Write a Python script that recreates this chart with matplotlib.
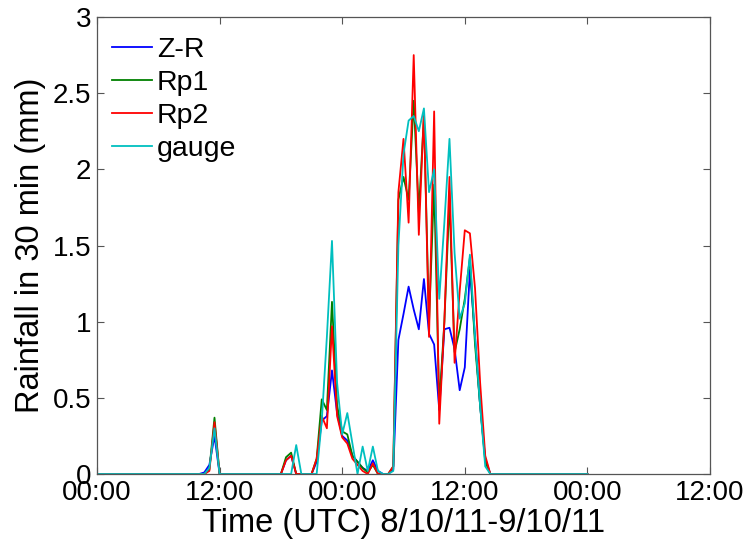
import matplotlib
matplotlib.use("Agg")
import matplotlib.pyplot as plt
import numpy as np

plt.rcParams['font.family'] = ['Liberation Sans', 'DejaVu Sans']

# half-hourly totals, 00:00 8/10/11 to 00:00 10/10/11 (hours since start)
hours = np.arange(0, 48.5, 0.5)

zr = [0, 0, 0, 0, 0, 0, 0, 0, 0, 0, 0, 0,
      0, 0, 0, 0, 0, 0, 0, 0, 0, 0.01, 0.06, 0.25,
      0, 0, 0, 0, 0, 0, 0, 0, 0, 0, 0, 0,
      0, 0.09, 0.12, 0, 0, 0, 0, 0.08, 0.35, 0.38, 0.68, 0.40,
      0.25, 0.22, 0.12, 0.08, 0.04, 0.02, 0.09, 0.02, 0, 0, 0.03, 0.88,
      1.05, 1.23, 1.08, 0.95, 1.28, 0.92, 0.85, 0.42, 0.95, 0.96, 0.82, 0.55,
      0.70, 1.34, 0.90, 0.45, 0.10, 0, 0, 0, 0, 0, 0, 0,
      0, 0, 0, 0, 0, 0, 0, 0, 0, 0, 0, 0,
      0]
rp1 = [0, 0, 0, 0, 0, 0, 0, 0, 0, 0, 0, 0,
       0, 0, 0, 0, 0, 0, 0, 0, 0, 0, 0.03, 0.37,
       0, 0, 0, 0, 0, 0, 0, 0, 0, 0, 0, 0,
       0, 0.11, 0.14, 0, 0, 0, 0, 0.10, 0.49, 0.42, 1.13, 0.45,
       0.28, 0.26, 0.12, 0.08, 0.04, 0.01, 0.06, 0, 0, 0, 0.05, 1.80,
       1.95, 1.80, 2.45, 1.72, 2.35, 1.00, 1.90, 0.45, 1.00, 1.80, 0.80, 0.95,
       1.15, 1.42, 0.85, 0.45, 0.08, 0, 0, 0, 0, 0, 0, 0,
       0, 0, 0, 0, 0, 0, 0, 0, 0, 0, 0, 0,
       0]
rp2 = [0, 0, 0, 0, 0, 0, 0, 0, 0, 0, 0, 0,
       0, 0, 0, 0, 0, 0, 0, 0, 0, 0, 0.02, 0.34,
       0, 0, 0, 0, 0, 0, 0, 0, 0, 0, 0, 0,
       0, 0.09, 0.12, 0, 0, 0, 0, 0.10, 0.38, 0.30, 0.97, 0.38,
       0.24, 0.20, 0.10, 0.06, 0.02, 0, 0.07, 0, 0, 0, 0.05, 1.85,
       2.20, 1.65, 2.75, 1.57, 2.38, 0.90, 2.38, 0.33, 1.00, 1.95, 0.73, 1.20,
       1.60, 1.58, 1.22, 0.60, 0.12, 0, 0, 0, 0, 0, 0, 0,
       0, 0, 0, 0, 0, 0, 0, 0, 0, 0, 0, 0,
       0]
gauge = [0, 0, 0, 0, 0, 0, 0, 0, 0, 0, 0, 0,
         0, 0, 0, 0, 0, 0, 0, 0, 0, 0, 0.04, 0.30,
         0, 0, 0, 0, 0, 0, 0, 0, 0, 0, 0, 0,
         0, 0, 0, 0.19, 0, 0, 0, 0, 0.35, 0.90, 1.53, 0.60,
         0.26, 0.40, 0.20, 0, 0.18, 0.02, 0.18, 0.02, 0, 0, 0.02, 1.50,
         2.10, 2.32, 2.35, 2.25, 2.40, 1.85, 2.00, 1.15, 1.65, 2.20, 1.45, 1.02,
         1.12, 1.44, 0.90, 0.45, 0.05, 0, 0, 0, 0, 0, 0, 0,
         0, 0, 0, 0, 0, 0, 0, 0, 0, 0, 0, 0,
         0]

xticks = [0, 12, 24, 36, 48, 60]
xticklabels = ['00:00', '12:00', '00:00', '12:00', '00:00', '12:00']
yticks = [0, 0.5, 1, 1.5, 2, 2.5, 3]
yticklabels = ['0', '0.5', '1', '1.5', '2', '2.5', '3']

fig = plt.figure(figsize=(7.52, 5.46), dpi=100)
ax = fig.add_axes([97 / 752, 1 - 474 / 546, 613 / 752, 457 / 546])

lw = 1.3
ax.plot(hours, zr, color=(0, 0, 1), lw=lw, label='Z-R')
ax.plot(hours, rp1, color=(0, 0.5, 0), lw=lw, label='Rp1')
ax.plot(hours, rp2, color=(1, 0, 0), lw=lw, label='Rp2')
ax.plot(hours, gauge, color=(0, 0.75, 0.75), lw=lw, label='gauge')

ax.set_xlim(0, 60)
ax.set_ylim(0, 3)
ax.set_xticks(xticks)
ax.set_xticklabels(xticklabels)
ax.set_yticks(yticks)
ax.set_yticklabels(yticklabels)
ax.tick_params(direction='in', top=True, right=True, length=5, width=0.8,
               color='#555555', labelsize=20, pad=4)
for s in ax.spines.values():
    s.set_color('#555555')
    s.set_linewidth(0.9)

ax.set_xlabel('Time (UTC) 8/10/11-9/10/11', fontsize=23.5, labelpad=2)
ax.set_ylabel('Rainfall in 30 min (mm)', fontsize=23.5, labelpad=5)

ax.legend(loc='upper left', frameon=False, fontsize=20.5, handlelength=1.4,
          handletextpad=0.18, labelspacing=0.25, borderaxespad=0.3,
          bbox_to_anchor=(-0.008, 1.0))

fig.savefig('out.png', dpi=100)
